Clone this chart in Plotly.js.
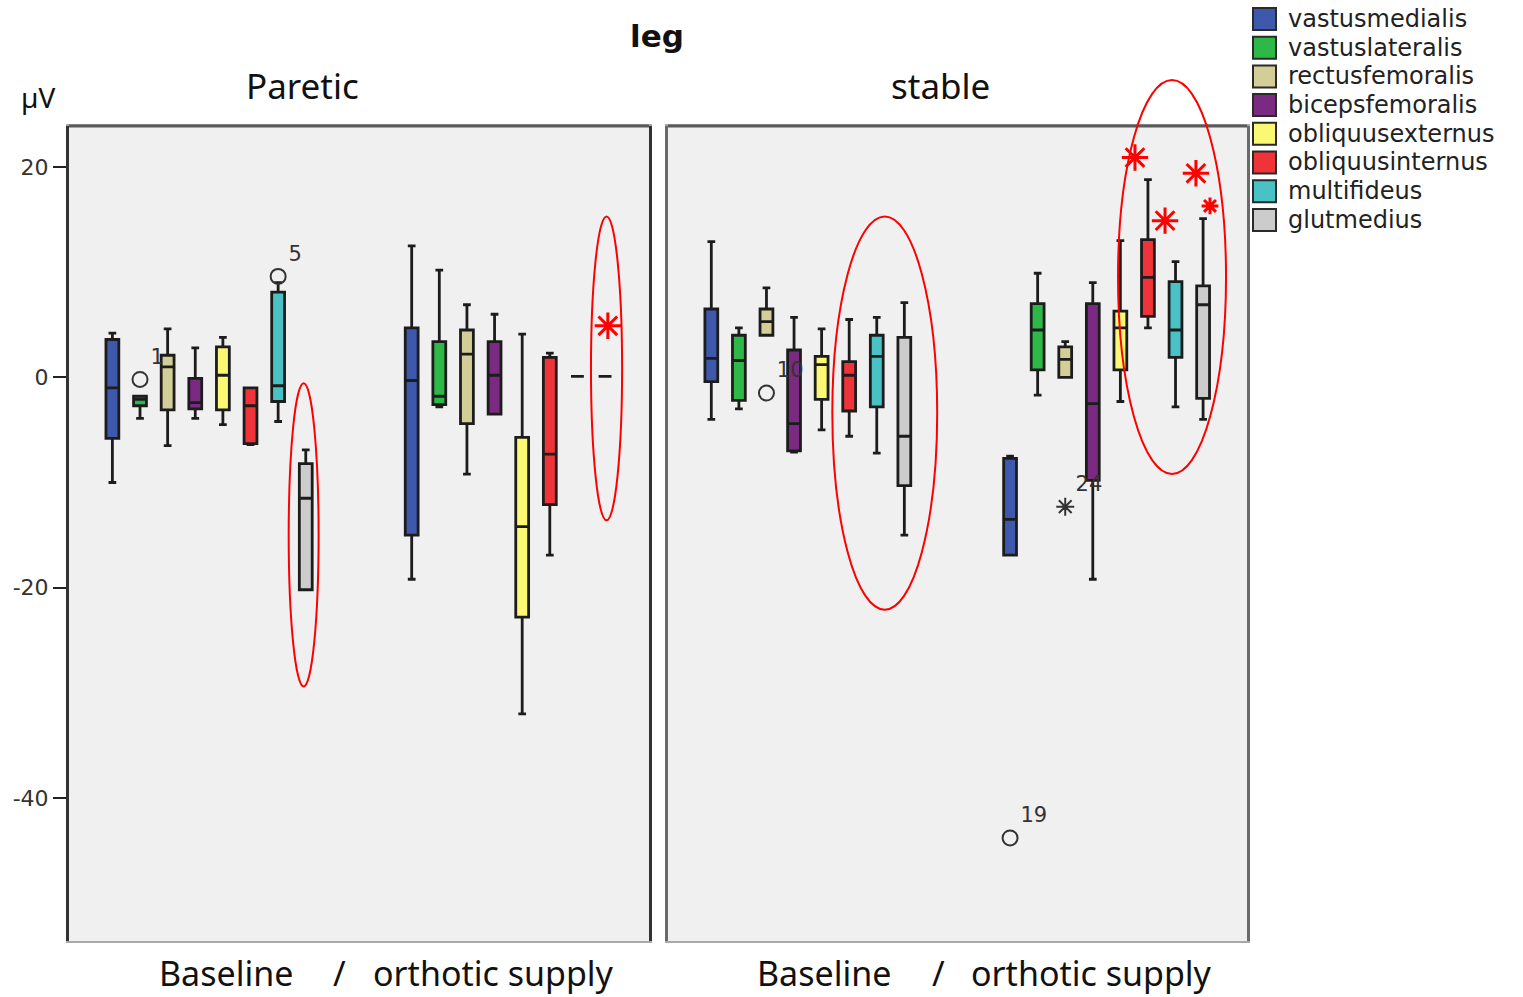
<!DOCTYPE html>
<html>
<head>
<meta charset="utf-8">
<script src="https://cdn.plot.ly/plotly-3.0.1.min.js"></script>
<style>html,body{margin:0;padding:0;background:#fff;}#chart{width:1523px;height:997px;}</style>
</head>
<body>
<div id="chart"></div>
<script>
// ---------- DATA ----------
const chartTitle = "leg";
const panels = ["Paretic", "stable"];
const categories = ["Baseline", "orthotic supply"];
const muscles = ["vastusmedialis", "vastuslateralis", "rectusfemoralis", "bicepsfemoralis",
                 "obliquusexternus", "obliquusinternus", "multifideus", "glutmedius"];
const muscleColors = ["#3e58ac", "#2eb848", "#d3ce97", "#7a2a80",
                      "#fbf873", "#ef3338", "#48c2c5", "#cccccc"];

// Paretic – Baseline
const parBaseHi  = [4.2, -1.8, 4.6, 2.8, 3.8, -1.0, 9.0, -6.9];
const parBaseQ3  = [3.6, -1.8, 2.1, -0.1, 2.9, -1.0, 8.1, -8.2];
const parBaseMed = [-1.0, -2.1, 1.0, -2.4, 0.2, -2.7, -0.8, -11.5];
const parBaseQ1  = [-5.8, -2.7, -3.1, -3.0, -3.1, -6.3, -2.3, -20.2];
const parBaseLo  = [-10.0, -3.9, -6.5, -3.9, -4.5, -6.4, -4.2, -20.2];
// Paretic – orthotic supply
const parOrtHi  = [12.5, 10.2, 6.9, 6.0, 4.1, 2.3, 0.1, 0.1];
const parOrtQ3  = [4.7, 3.4, 4.5, 3.4, -5.7, 1.9, 0.1, 0.1];
const parOrtMed = [-0.3, -1.8, 2.2, 0.2, -14.2, -7.3, 0.1, 0.1];
const parOrtQ1  = [-15.0, -2.6, -4.4, -3.5, -22.8, -12.1, 0.1, 0.1];
const parOrtLo  = [-19.2, -2.8, -9.2, -3.5, -32.0, -16.9, 0.1, 0.1];
// stable – Baseline
const stbBaseHi  = [12.9, 4.7, 8.5, 5.7, 4.6, 5.5, 5.7, 7.1];
const stbBaseQ3  = [6.5, 4.0, 6.5, 2.6, 2.0, 1.5, 4.0, 3.8];
const stbBaseMed = [1.8, 1.6, 5.3, -4.4, 1.2, 0.2, 2.0, -5.6];
const stbBaseQ1  = [-0.4, -2.2, 4.0, -7.0, -2.1, -3.2, -2.8, -10.3];
const stbBaseLo  = [-4.0, -3.0, 4.0, -7.1, -5.0, -5.6, -7.2, -15.0];
// stable – orthotic supply
const stbOrtHi  = [-7.5, 9.9, 3.4, 9.0, 13.0, 18.8, 11.0, 15.1];
const stbOrtQ3  = [-7.7, 7.0, 2.9, 7.0, 6.3, 13.1, 9.1, 8.7];
const stbOrtMed = [-13.5, 4.5, 1.7, -2.5, 4.7, 9.5, 4.5, 6.9];
const stbOrtQ1  = [-16.9, 0.7, 0.0, -9.8, 0.7, 5.8, 1.9, -2.0];
const stbOrtLo  = [-16.9, -1.7, 0.0, -19.2, -2.3, 4.7, -2.8, -4.0];

// Outliers (panel index, category index, muscle index, value, case label, kind)
const outPanel  = [0, 0, 1, 1, 1];
const outCat    = [0, 0, 0, 1, 1];
const outMuscle = [1, 6, 2, 0, 2];
const outValue  = [-0.2, 9.6, -1.5, -43.8, -12.3];
const outLabel  = ["1", "5", "10", "19", "24"];
const outKind   = ["circle", "circle", "circle", "circle", "extreme"];

// Red significance asterisks (panel, category, muscle slot, value, big?)
const sigPanel = [0, 1, 1, 1, 1];
const sigCat   = [1, 1, 1, 1, 1];
const sigSlot  = [7.1, 4.53, 5.62, 6.74, 7.25];
const sigValue = [4.9, 20.9, 14.9, 19.4, 16.3];
const sigBig   = [true, true, true, true, false];

const yTicks = [-40, -20, 0, 20];

// ---------- BUILD ----------
const SLOT = 0.0923;          // spacing of muscles inside a category band
const BOXW = 0.043;           // box width in band units
const pos = (cat, m) => cat + (m - 3.5) * SLOT;

const stats = [
  [[parBaseLo, parBaseQ1, parBaseMed, parBaseQ3, parBaseHi], [parOrtLo, parOrtQ1, parOrtMed, parOrtQ3, parOrtHi]],
  [[stbBaseLo, stbBaseQ1, stbBaseMed, stbBaseQ3, stbBaseHi], [stbOrtLo, stbOrtQ1, stbOrtMed, stbOrtQ3, stbOrtHi]]
];
const axX = ["x", "x2"], axY = ["y", "y2"];
const traces = [];
panels.forEach((p, pi) => {
  muscles.forEach((mname, m) => {
    const s0 = stats[pi][0], s1 = stats[pi][1];
    traces.push({
      type: "box", name: mname, legendgroup: mname, showlegend: false,
      x: [pos(0, m), pos(1, m)],
      lowerfence: [s0[0][m], s1[0][m]],
      q1: [s0[1][m], s1[1][m]],
      median: [s0[2][m], s1[2][m]],
      q3: [s0[3][m], s1[3][m]],
      upperfence: [s0[4][m], s1[4][m]],
      width: BOXW, whiskerwidth: 0.6,
      fillcolor: muscleColors[m],
      line: {color: "#1c1c1c", width: 2.8},
      boxpoints: false, hoverinfo: "skip",
      xaxis: axX[pi], yaxis: axY[pi]
    });
  });
});

// outliers
outValue.forEach((v, i) => {
  const pi = outPanel[i];
  traces.push({
    type: "scatter", mode: "markers+text", showlegend: false, hoverinfo: "skip",
    x: [pos(outCat[i], outMuscle[i])], y: [v], text: [outLabel[i]],
    textposition: "top right",
    textfont: {family: "DejaVu Sans", size: 21, color: "#333"},
    marker: outKind[i] === "circle"
      ? {symbol: "circle-open", size: 15, color: "#333", line: {width: 2, color: "#333"}}
      : {symbol: "asterisk-open", size: 15, color: "#333", line: {width: 2, color: "#333"}},
    xaxis: axX[pi], yaxis: axY[pi], cliponaxis: false
  });
});

// red asterisks
sigValue.forEach((v, i) => {
  const pi = sigPanel[i];
  traces.push({
    type: "scatter", mode: "markers", showlegend: false, hoverinfo: "skip",
    x: [sigCat[i] + (sigSlot[i] - 3.5) * SLOT], y: [v],
    marker: {symbol: "asterisk-open", size: sigBig[i] ? 22 : 14, color: "#ff0000",
             line: {width: 3, color: "#ff0000"}},
    xaxis: axX[pi], yaxis: axY[pi], cliponaxis: false
  });
});

const txtFont = {family: "Noto Sans", size: 35, color: "#111"};
const botFont = {family: "Noto Sans", size: 34, color: "#111"};
const annotations = [
  {text: chartTitle, xref: "paper", yref: "paper", x: 0.499, y: 1.110, showarrow: false,
   font: {family: "DejaVu Sans", size: 31, color: "#111", weight: "bold"}, xanchor: "center", yanchor: "middle"},
  {text: "µV", xref: "paper", yref: "paper", x: -0.026, y: 1.036, showarrow: false,
   font: {family: "Noto Sans", size: 28, color: "#111"}, xanchor: "center", yanchor: "middle"},
  {text: panels[0], xref: "x domain", yref: "paper", x: 0.402, y: 1.050, showarrow: false,
   font: txtFont, xanchor: "center", yanchor: "middle"},
  {text: panels[1], xref: "x2 domain", yref: "paper", x: 0.470, y: 1.050, showarrow: false,
   font: txtFont, xanchor: "center", yanchor: "middle"}
];
["x domain", "x2 domain"].forEach(ref => {
  annotations.push({text: categories[0], xref: ref, yref: "paper", x: 0.27, y: -0.039,
    showarrow: false, font: botFont, xanchor: "center", yanchor: "middle", borderpad: 0});
  annotations.push({text: "/", xref: ref, yref: "paper", x: 0.467, y: -0.039,
    showarrow: false, font: botFont, xanchor: "center", yanchor: "middle", borderpad: 0});
  annotations.push({text: categories[1], xref: ref, yref: "paper", x: 0.731, y: -0.039,
    showarrow: false, font: botFont, xanchor: "center", yanchor: "middle", borderpad: 0});
});

const red = {color: "#ff0000", width: 2};
const shapes = [
  // panel top borders
  {type: "line", xref: "x domain", yref: "y domain", x0: 0, x1: 1, y0: 1, y1: 1, line: {color: "#5a5a5a", width: 3}},
  {type: "line", xref: "x2 domain", yref: "y2 domain", x0: 0, x1: 1, y0: 1, y1: 1, line: {color: "#5a5a5a", width: 3}},
  // highlight ellipses
  {type: "circle", xref: "x", yref: "y", x0: 0.266, x1: 0.366, y0: -29.4, y1: -0.57, line: red},
  {type: "circle", xref: "x", yref: "y", x0: 1.276, x1: 1.380, y0: -13.6, y1: 15.3, line: red},
  {type: "circle", xref: "x2", yref: "y2", x0: 0.082, x1: 0.433, y0: -22.1, y1: 15.3, line: red},
  {type: "circle", xref: "paper", yref: "paper", x0: 0.8905, x1: 0.9822, y0: 0.573, y1: 1.0564, line: red}
];

// legend block (drawn as swatches + labels at the top right)
const PLOT_L = 69, PLOT_W = 1178, PLOT_B = 941, PLOT_H = 815;
const px2x = px => (px - PLOT_L) / PLOT_W;
const py2y = py => (PLOT_B - py) / PLOT_H;
muscles.forEach((mname, m) => {
  const cy = 19 + 28.7 * m;
  shapes.push({type: "rect", xref: "paper", yref: "paper",
    x0: px2x(1253), x1: px2x(1276), y0: py2y(cy + 11), y1: py2y(cy - 11),
    fillcolor: muscleColors[m], line: {color: "#2a2a2a", width: 2}});
  annotations.push({text: mname, xref: "paper", yref: "paper", x: px2x(1286), y: py2y(cy),
    xanchor: "left", yanchor: "middle", showarrow: false,
    font: {family: "DejaVu Sans", size: 24, color: "#222"}});
});

const xBase = {range: [-0.468, 1.47], showticklabels: false, ticks: "", showgrid: false, zeroline: false,
               showline: true, mirror: true, linecolor: "#a8a8a8", linewidth: 2, fixedrange: true};
const yBase = {range: [-53.6, 23.9], showgrid: false, zeroline: false, showline: true, mirror: true,
               linewidth: 3, fixedrange: true};

const layout = {
  width: 1523, height: 997,
  margin: {l: 69, r: 276, t: 126, b: 56, autoexpand: false},
  paper_bgcolor: "#ffffff", plot_bgcolor: "#f0f0f0",
  boxmode: "overlay",
  showlegend: false,
  xaxis: Object.assign({}, xBase, {domain: [0, 0.4924], anchor: "y"}),
  xaxis2: Object.assign({}, xBase, {domain: [0.5085, 1], anchor: "y2"}),
  yaxis: Object.assign({}, yBase, {anchor: "x", tickvals: yTicks, ticktext: yTicks.map(String),
           ticks: "outside", ticklen: 13, tickwidth: 2,
           tickcolor: "#222", linecolor: "#333",
           tickfont: {family: "DejaVu Sans", size: 22, color: "#333"}}),
  yaxis2: Object.assign({}, yBase, {anchor: "x2", showticklabels: false, ticks: "", linecolor: "#6a6a6a"}),
  annotations: annotations,
  shapes: shapes
};

Plotly.newPlot("chart", traces, layout, {displayModeBar: false, staticPlot: true});
</script>
</body>
</html>
